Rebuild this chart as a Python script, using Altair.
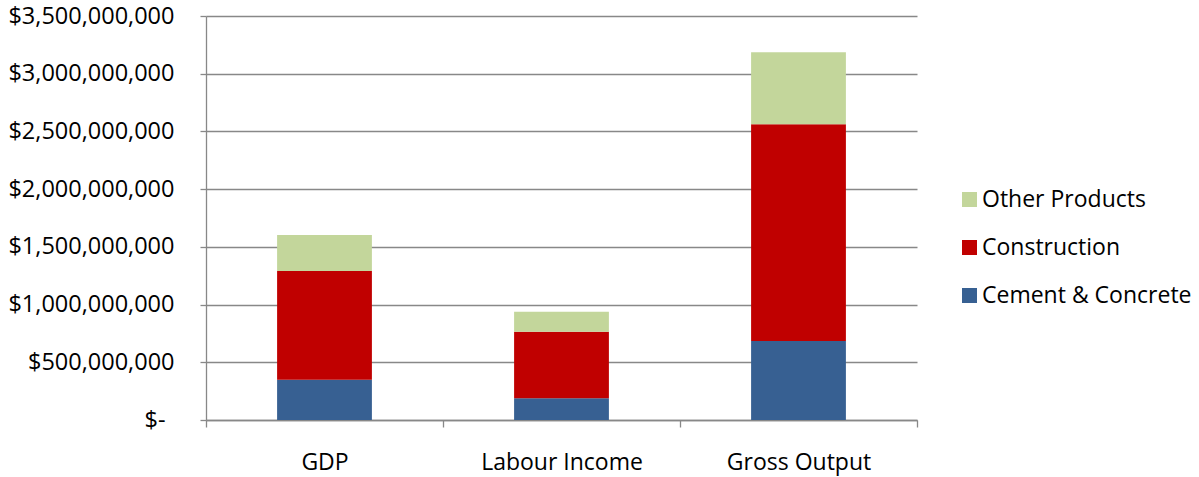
import altair as alt
import pandas as pd

categories = ["GDP", "Labour Income", "Gross Output"]
series = ["Cement & Concrete", "Construction", "Other Products"]
cement = [349e6, 188e6, 684e6]
construction = [942e6, 577e6, 1878e6]
other = [312e6, 173e6, 624e6]

legend_order = ["Other Products", "Construction", "Cement & Concrete"]
colors = ["#C3D69B", "#C00000", "#376092"]

rows = []
for i, c in enumerate(categories):
    for j, (s, vals) in enumerate(zip(series, [cement, construction, other])):
        rows.append({"category": c, "series": s, "value": vals[i], "idx": j})
df = pd.DataFrame(rows)

FONT = "Open Sans"
FS = 23

chart = alt.Chart(df).mark_bar(width=alt.RelativeBandSize(0.40)).encode(
    x=alt.X("category:N", sort=categories, title=None,
            scale=alt.Scale(paddingInner=0, paddingOuter=0),
            axis=alt.Axis(labelAngle=0, labelFontSize=FS, labelFont=FONT, labelColor="#000000",
                          labelPadding=24, tickBand="extent", tickSize=7, tickColor="#888888",
                          domainColor="#888888", domainWidth=1.3, tickWidth=1.3, grid=False)),
    y=alt.Y("value:Q", title=None, stack="zero",
            scale=alt.Scale(domain=[0, 3.5e9], nice=False),
            axis=alt.Axis(values=[0, 5e8, 1e9, 1.5e9, 2e9, 2.5e9, 3e9, 3.5e9],
                          labelExpr="datum.value == 0 ? '$-' : '$' + format(datum.value, ',d')",
                          labelFontSize=23.5, labelFont=FONT, labelColor="#000000",
                          labelPadding={"condition": {"test": "datum.value == 0", "value": 35}, "value": 26},
                          tickSize=6, tickColor="#888888", tickWidth=1.3,
                          domainColor="#888888", domainWidth=1.3,
                          grid=True, gridColor="#888888", gridWidth=1.3)),
    color=alt.Color("series:N", scale=alt.Scale(domain=legend_order, range=colors),
                    legend=alt.Legend(title=None, orient="none", legendX=752, legendY=172,
                                      symbolType="square", symbolSize=225, symbolStrokeWidth=0,
                                      labelFontSize=FS, labelFont=FONT, labelColor="#000000",
                                      labelLimit=0, rowPadding=24, labelOffset=1)),
    order=alt.Order("idx:Q", sort="ascending"),
).properties(
    width=711, height=404,
    autosize=alt.AutoSizeParams(type="none"),
    padding={"left": 206, "top": 16, "right": 282, "bottom": 57},
).configure_view(strokeOpacity=0)

chart.save("out.html", embed_options={"renderer": "svg", "actions": False})
